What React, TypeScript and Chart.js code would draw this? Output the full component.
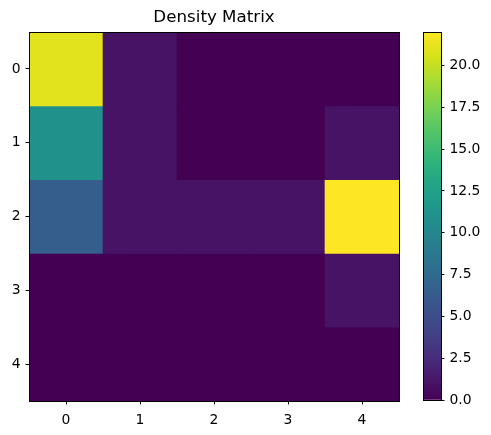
import React, { useEffect, useRef } from 'react';
import { Chart, registerables } from 'chart.js';

Chart.register(...registerables);

// ---- data ----
const TITLE = 'Density Matrix';
const COLUMN_LABELS = ['0', '1', '2', '3', '4'];
const ROW_LABELS = ['0', '1', '2', '3', '4'];
const ROW_0 = [21, 1, 0, 0, 0];
const ROW_1 = [11, 1, 0, 0, 1];
const ROW_2 = [6.5, 1, 1, 1, 22];
const ROW_3 = [0, 0, 0, 0, 1];
const ROW_4 = [0, 0, 0, 0, 0];
const ROWS = [ROW_0, ROW_1, ROW_2, ROW_3, ROW_4];
const COLOR_MIN = 0;
const COLOR_MAX = 22;
const COLORBAR_STEP = 2.5;

// viridis colormap stops
const VIRIDIS = [
  '#440154', '#481a6c', '#472f7d', '#414487', '#3b528b', '#33638d', '#2c728e', '#26828e',
  '#21918c', '#1fa088', '#28ae80', '#3fbc73', '#5ec962', '#84d44b', '#addc30', '#d8e219', '#fde725',
];

function hexToRgb(h: string) {
  return [parseInt(h.slice(1, 3), 16), parseInt(h.slice(3, 5), 16), parseInt(h.slice(5, 7), 16)];
}

function viridis(t: number) {
  const x = Math.max(0, Math.min(1, t)) * (VIRIDIS.length - 1);
  const i = Math.min(Math.floor(x), VIRIDIS.length - 2);
  const f = x - i;
  const a = hexToRgb(VIRIDIS[i]);
  const b = hexToRgb(VIRIDIS[i + 1]);
  const c = a.map((v, k) => Math.round(v + (b[k] - v) * f));
  return `rgb(${c[0]},${c[1]},${c[2]})`;
}

const FONT = 'DejaVu Sans';
const TICK_FONT = { family: FONT, size: 13.9 };

const framePlugin = {
  id: 'frame',
  afterDatasetsDraw(chart: any) {
    const { ctx, chartArea } = chart;
    ctx.save();
    ctx.strokeStyle = '#000';
    ctx.lineWidth = 1;
    ctx.strokeRect(
      Math.round(chartArea.left) + 0.5,
      Math.round(chartArea.top) + 0.5,
      Math.round(chartArea.right) - Math.round(chartArea.left),
      Math.round(chartArea.bottom) - Math.round(chartArea.top)
    );
    ctx.restore();
  },
};

export default function App() {
  const mainRef = useRef<HTMLCanvasElement>(null);
  const cbRef = useRef<HTMLCanvasElement>(null);

  useEffect(() => {
    const datasets = ROWS.map((row, r) => ({
      label: ROW_LABELS[r],
      data: row.map(() => [r - 0.5, r + 0.5]),
      backgroundColor: row.map((v) => viridis((v - COLOR_MIN) / (COLOR_MAX - COLOR_MIN))),
      borderWidth: 0,
      borderSkipped: false,
      barPercentage: 1,
      categoryPercentage: 1,
      grouped: false,
    }));

    const main = new Chart(mainRef.current!, {
      type: 'bar',
      data: { labels: COLUMN_LABELS, datasets: datasets as any },
      plugins: [framePlugin],
      options: {
        animation: false,
        responsive: false,
        devicePixelRatio: 1,
        events: [],
        layout: { padding: { left: 0, right: 92, top: 0, bottom: 0 } },
        plugins: {
          legend: { display: false },
          tooltip: { enabled: false },
          title: {
            display: true,
            text: TITLE,
            fullSize: false,
            color: '#000',
            font: { family: FONT, size: 16.7, weight: 'normal' },
            padding: { top: 8, bottom: 4 },
          },
        },
        scales: {
          x: {
            type: 'category',
            offset: true,
            grid: {
              display: true,
              offset: false,
              drawOnChartArea: false,
              drawTicks: true,
              tickLength: 3.5,
              color: '#000',
              lineWidth: 1,
            },
            border: { display: false },
            ticks: { color: '#000', font: TICK_FONT, padding: 8, maxRotation: 0 },
            afterFit: (s: any) => { s.height = 34; },
          },
          y: {
            type: 'linear',
            reverse: true,
            min: -0.5,
            max: 4.5,
            grid: {
              display: true,
              drawOnChartArea: false,
              drawTicks: true,
              tickLength: 3.5,
              color: '#000',
              lineWidth: 1,
            },
            border: { display: false },
            ticks: {
              color: '#000',
              font: TICK_FONT,
              padding: 5,
              callback: (v: any) => ROW_LABELS[Math.round(Number(v))] ?? '',
            },
            afterBuildTicks: (s: any) => {
              s.ticks = ROW_LABELS.map((_, i) => ({ value: i }));
            },
            afterFit: (s: any) => { s.width = 29; },
          },
        },
      } as any,
    });

    const cb = new Chart(cbRef.current!, {
      type: 'bar',
      data: {
        labels: [''],
        datasets: [
          {
            data: [[COLOR_MIN, COLOR_MAX]],
            backgroundColor: (ctx: any) => {
              const area = ctx.chart.chartArea;
              if (!area) return VIRIDIS[0];
              const g = ctx.chart.ctx.createLinearGradient(0, area.bottom, 0, area.top);
              VIRIDIS.forEach((c, i) => g.addColorStop(i / (VIRIDIS.length - 1), c));
              return g;
            },
            borderWidth: 0,
            borderSkipped: false,
            barPercentage: 1,
            categoryPercentage: 1,
          } as any,
        ],
      },
      plugins: [framePlugin],
      options: {
        animation: false,
        responsive: false,
        devicePixelRatio: 1,
        events: [],
        layout: { padding: { left: 423, right: 0, top: 32, bottom: 35 } },
        plugins: { legend: { display: false }, tooltip: { enabled: false }, title: { display: false } },
        scales: {
          x: { display: false },
          y: {
            type: 'linear',
            position: 'right',
            min: COLOR_MIN,
            max: COLOR_MAX,
            grid: {
              display: true,
              drawOnChartArea: false,
              drawTicks: true,
              tickLength: 3.5,
              color: '#000',
              lineWidth: 1,
            },
            border: { display: false },
            ticks: {
              stepSize: COLORBAR_STEP,
              includeBounds: false,
              color: '#000',
              font: TICK_FONT,
              padding: 5,
              callback: (v: any) => Number(v).toFixed(1),
            },
            afterFit: (s: any) => { s.width = 50; },
          },
        },
      } as any,
    });

    return () => {
      main.destroy();
      cb.destroy();
    };
  }, []);

  const canvasStyle: React.CSSProperties = { position: 'absolute', left: 0, top: 0, width: 491, height: 435 };
  return (
    <div style={{ position: 'fixed', left: 0, top: 0, width: 491, height: 435, background: '#fff' }}>
      <canvas ref={mainRef} width={491} height={435} style={canvasStyle} />
      <canvas ref={cbRef} width={491} height={435} style={canvasStyle} />
    </div>
  );
}
